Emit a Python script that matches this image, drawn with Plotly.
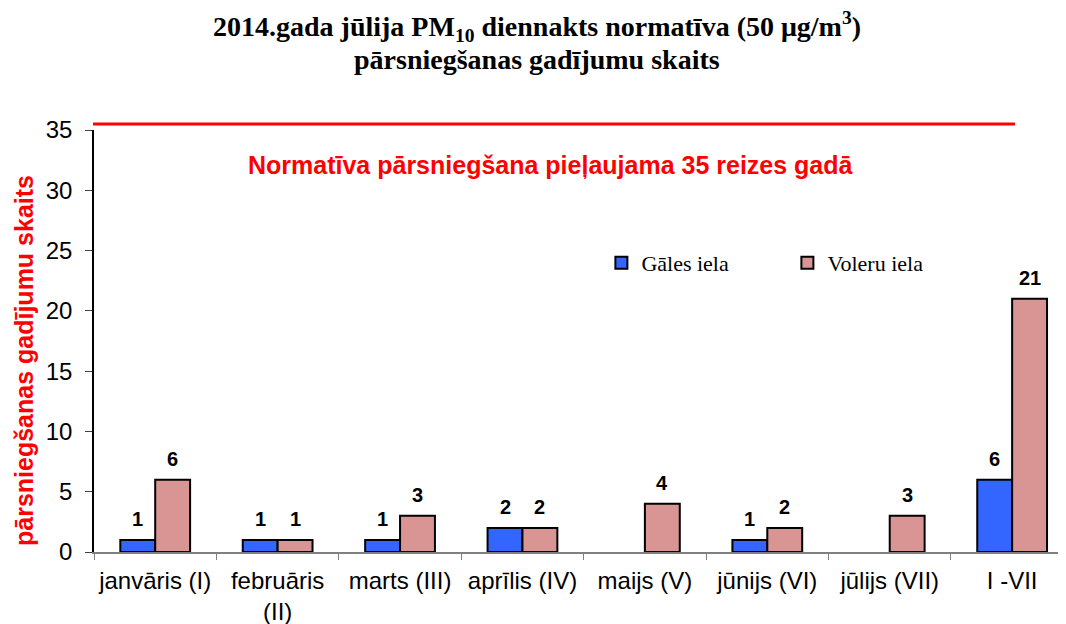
import plotly.graph_objects as go

categories = ["janvāris (I)", "februāris<br>(II)", "marts (III)", "aprīlis (IV)",
              "maijs (V)", "jūnijs (VI)", "jūlijs (VII)", "I -VII"]
gales = [1, 1, 1, 2, None, 1, None, 6]
voleru = [6, 1, 3, 2, 4, 2, 3, 21]
norm_limit = 35
y_ticks = [0, 5, 10, 15, 20, 25, 30, 35]

BLUE = "#3366FF"
PINK = "#D99594"
RED = "#FF0000"
SANS = "Liberation Sans, Arial"
SERIF = "Liberation Serif, Times New Roman"

# geometry (the page adds an 8px body margin, so figure coords = page coords - 8)
W, H = 1058, 616
ML, MR, MT, MB = 86, 0, 122, 72
X_RANGE = [-0.5, 7.44]
BARGAP = 0.43
plot_w = W - ML - MR
plot_h = H - MT - MB
px_per_cat = plot_w / (X_RANGE[1] - X_RANGE[0])
bar_px = (1 - BARGAP) / 2 * px_per_cat

fig = go.Figure()
fig.add_trace(go.Bar(
    x=categories, y=gales, name="Gāles iela",
    marker=dict(color=BLUE, line=dict(color="black", width=2)),
))
fig.add_trace(go.Bar(
    x=categories, y=voleru, name="Voleru iela",
    marker=dict(color=PINK, line=dict(color="black", width=2)),
))

# value labels above the bars
for series, shift in ((gales, -bar_px / 2), (voleru, bar_px / 2)):
    for cat, v in zip(categories, series):
        if v is None:
            continue
        fig.add_annotation(
            x=cat, y=v, xref="x", yref="y", text=f"<b>{v}</b>", showarrow=False,
            xshift=shift, yshift=21, xanchor="center", yanchor="middle",
            font=dict(family=SANS, size=20, color="black"),
        )

fig.update_layout(
    width=W, height=H,
    margin=dict(l=ML, r=MR, t=MT, b=MB, autoexpand=False),
    paper_bgcolor="white", plot_bgcolor="white",
    barmode="group", bargap=BARGAP, bargroupgap=0,
    legend=dict(
        orientation="h", x=0.522, y=0.685, xanchor="left", yanchor="middle",
        font=dict(family=SERIF, size=22, color="black"),
        bgcolor="rgba(0,0,0,0)", entrywidth=141, entrywidthmode="pixels",
        traceorder="normal",
    ),
    showlegend=True,
)

fig.update_xaxes(
    type="category", range=X_RANGE,
    showline=True, linecolor="#808080", linewidth=2,
    ticks="outside", tickson="boundaries", ticklen=6, tickcolor="#808080", tickwidth=1,
    tickfont=dict(family=SANS, size=24, color="black"),
    ticklabelstandoff=6,
    showgrid=False, zeroline=False,
)
fig.update_yaxes(
    range=[0, 35], tickvals=y_ticks,
    showline=True, linecolor="black", linewidth=1.5,
    ticks="outside", ticklen=7, tickcolor="#404040", tickwidth=1,
    tickfont=dict(family=SANS, size=24, color="black"),
    ticklabelstandoff=8,
    showgrid=False, zeroline=False,
)

def py(fig_y):
    """figure pixel y (from top) -> paper coordinate"""
    return (H - MB - fig_y) / plot_h

def px(fig_x):
    return (fig_x - ML) / plot_w

# title (two lines)
fig.add_annotation(
    text="<b>2014.gada jūlija PM<sub>10</sub> diennakts normatīva (50 μg/m<sup>3</sup>)</b>",
    xref="paper", yref="paper", x=px(529), y=py(19), showarrow=False,
    xanchor="center", yanchor="middle",
    font=dict(family=SERIF, size=28, color="black"),
)
fig.add_annotation(
    text="<b>pārsniegšanas gadījumu skaits</b>",
    xref="paper", yref="paper", x=px(529), y=py(52), showarrow=False,
    xanchor="center", yanchor="middle",
    font=dict(family=SERIF, size=28, color="black"),
)

# normative limit line (drawn just above the top of the axis, as in the original)
fig.add_shape(type="line", xref="paper", yref="paper",
              x0=px(85), x1=px(1007), y0=py(116), y1=py(116),
              line=dict(color=RED, width=3))

fig.add_annotation(
    text=f"<b>Normatīva pārsniegšana pieļaujama {norm_limit} reizes gadā</b>",
    xref="paper", yref="paper", x=px(543), y=py(157), showarrow=False,
    xanchor="center", yanchor="middle",
    font=dict(family=SANS, size=25, color=RED),
)
fig.add_annotation(
    text="<b>pārsniegšanas gadījumu skaits</b>",
    xref="paper", yref="paper", x=px(16), y=py(353), textangle=-90,
    showarrow=False, xanchor="center", yanchor="middle",
    font=dict(family=SANS, size=25, color=RED),
)

fig.write_html("out.html")
